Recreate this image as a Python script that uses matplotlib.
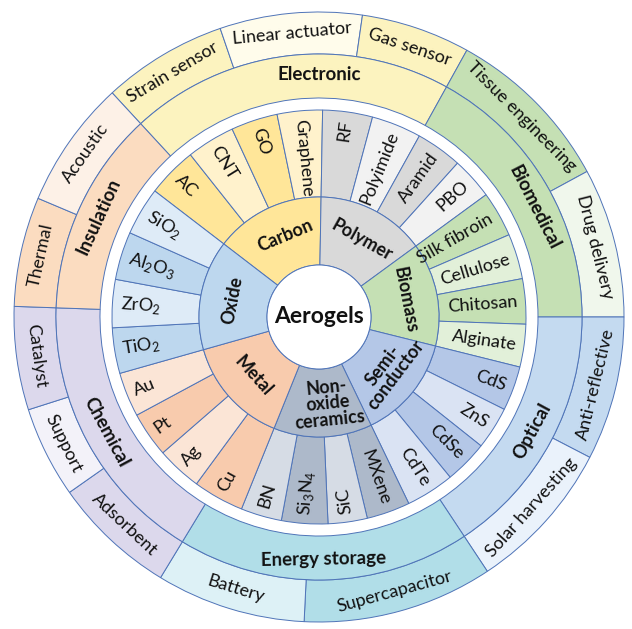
import numpy as np
import matplotlib
matplotlib.use('Agg')
import matplotlib.pyplot as plt

plt.rcParams['font.family'] = ['Lato', 'DejaVu Sans']
plt.rcParams['mathtext.fontset'] = 'custom'
plt.rcParams['mathtext.rm'] = 'Lato'

# ---------------- data ----------------
classes = ['Carbon', 'Polymer', 'Biomass', 'Semi-\nconductor',
           'Non-\noxide\nceramics', 'Metal', 'Oxide']
class_dark = ['#FFE699', '#D9D9D9', '#C5E0B4', '#B4C7E7', '#ADB9CA', '#F8CBAD', '#BDD7EE']
class_light = ['#FFF2CC', '#F2F2F2', '#E2F0D9', '#DAE3F3', '#D6DCE5', '#FBE5D6', '#DEEBF7']
materials_per_class = [4, 4, 4, 4, 4, 4, 4]

materials = ['AC', 'CNT', 'GO', 'Graphene',
             'RF', 'Polyimide', 'Aramid', 'PBO',
             'Silk fibroin', 'Cellulose', 'Chitosan', 'Alginate',
             'CdS', 'ZnS', 'CdSe', 'CdTe',
             'MXene', 'SiC', r'Si$_\mathregular{3}$N$_\mathregular{4}$', 'BN',
             'Cu', 'Ag', 'Pt', 'Au',
             r'TiO$_\mathregular{2}$', r'ZrO$_\mathregular{2}$',
             r'Al$_\mathregular{2}$O$_\mathregular{3}$', r'SiO$_\mathregular{2}$']
material_share = [14.1, 13.6, 13.1, 12.7,
                  14.0, 14.0, 13.0, 11.8,
                  12.8, 12.7, 12.7, 12.0,
                  12.5, 12.0, 12.2, 13.6,
                  12.2, 11.0, 13.0, 11.5,
                  14.3, 12.7, 12.7, 12.5,
                  12.8, 13.5, 13.5, 13.5]

app_groups = ['Electronic', 'Biomedical', 'Optical', 'Energy storage', 'Chemical', 'Insulation']
app_dark = ['#FCF3BF', '#C5E0B4', '#C4DAF0', '#B1DEE8', '#DCD8EC', '#FBDCC0']
app_light = ['#FFFCEB', '#F0F7EC', '#EAF2FB', '#DDF1F6', '#F3F2F9', '#FDF1E7']
apps_per_group = [3, 2, 2, 2, 3, 2]
applications = ['Strain sensor', 'Linear actuator', 'Gas sensor',
                'Tissue engineering', 'Drug delivery',
                'Anti-reflective', 'Solar harvesting',
                'Supercapacitor', 'Battery',
                'Adsorbent', 'Support', 'Catalyst',
                'Thermal', 'Acoustic']
application_share = [23.8, 27.1, 20.8,
                     32.5, 28.5,
                     27.4, 29.1,
                     36.3, 28.5,
                     23.6, 17.4, 19.7,
                     20.9, 24.4]

center_label = 'Aerogels'

# ---------------- layout ----------------
W, H = 632, 629
CX, CY = 319, 317
R_HOLE, R_CLASS, R_MAT = 52, 120, 207
R_APPIN, R_APPMID, R_APPOUT = 219, 263, 305
MAT_START = 307.5      # compass angle (deg, clockwise from north)
APP_START = 317.3
EDGE = '#4F74B8'
LW = 0.7
label_shift = {'Electronic': 7.0, 'Biomedical': 3.5, 'Carbon': 3.0, 'Polymer': 2.0,
               'Semi-\nconductor': -2.0, 'Non-\noxide\nceramics': -4.0}

fig = plt.figure(figsize=(W / 100, H / 100), dpi=100)
ax = fig.add_axes([0, 0, 1, 1])


def group_sums(vals, counts):
    out, i = [], 0
    for c in counts:
        out.append(sum(vals[i:i + c]))
        i += c
    return out


def expand_colors(counts, dark, light):
    cols = []
    for c, d, l in zip(counts, dark, light):
        cols += [d if k % 2 == 0 else l for k in range(c)]
    return cols


def centers(vals, start):
    cum = np.concatenate([[0], np.cumsum(vals)])
    return [(start + (cum[i] + cum[i + 1]) / 2) % 360 for i in range(len(vals))]


def pos(c, r):
    phi = np.deg2rad(90 - c)
    return r * np.cos(phi), r * np.sin(phi)


def tangential_rot(c):
    rot = (-c) % 360
    if rot > 180:
        rot -= 360
    if rot > 90:
        rot -= 180
    if rot <= -90:
        rot += 180
    return rot


class_share = group_sums(material_share, materials_per_class)
group_share = group_sums(application_share, apps_per_group)
wp = dict(edgecolor=EDGE, linewidth=LW)

# rings
ax.pie(application_share, radius=R_APPOUT, startangle=90 - APP_START, counterclock=False,
       colors=expand_colors(apps_per_group, app_dark, app_light),
       wedgeprops=dict(width=R_APPOUT - R_APPMID, **wp))
ax.pie(group_share, radius=R_APPMID, startangle=90 - APP_START, counterclock=False,
       colors=app_dark, wedgeprops=dict(width=R_APPMID - R_APPIN, **wp))
ax.pie(material_share, radius=R_MAT, startangle=90 - MAT_START, counterclock=False,
       colors=expand_colors(materials_per_class, class_dark, class_light),
       wedgeprops=dict(width=R_MAT - R_CLASS, **wp))
ax.pie(class_share, radius=R_CLASS, startangle=90 - MAT_START, counterclock=False,
       colors=class_dark, wedgeprops=dict(width=R_CLASS - R_HOLE, **wp))
ax.add_patch(plt.Circle((0, 0), R_HOLE, facecolor='white', edgecolor=EDGE, linewidth=LW))

# application labels
for name, c in zip(applications, centers(application_share, APP_START)):
    x, y = pos(c, (R_APPMID + R_APPOUT) / 2 + 1)
    ax.text(x, y, name, rotation=tangential_rot(c), rotation_mode='anchor',
            ha='center', va='center', fontsize=13, color='#111111')

for name, c in zip(app_groups, centers(group_share, APP_START)):
    c = c + label_shift.get(name, 0)
    x, y = pos(c, (R_APPIN + R_APPMID) / 2 + 1)
    ax.text(x, y, name, rotation=tangential_rot(c), rotation_mode='anchor',
            ha='center', va='center', fontsize=13.5, fontweight='bold', color='#111111')

# material labels (radial, anchored near the outer edge)
for name, c in zip(materials, centers(material_share, MAT_START)):
    phi = 90 - c
    flip = 170 < c < 360
    rot = phi + 180 if flip else phi
    rot = (rot + 180) % 360 - 180
    x, y = pos(c, R_MAT - 8)
    ax.text(x, y, name, rotation=rot, rotation_mode='anchor',
            ha='left' if flip else 'right', va='center', fontsize=13, color='#111111')

# class labels
for name, c in zip(classes, centers(class_share, MAT_START)):
    c = c + label_shift.get(name, 0)
    r = 87 if name.count('\n') == 2 else (R_HOLE + R_CLASS) / 2 + 2
    x, y = pos(c, r)
    ax.text(x, y, name, rotation=tangential_rot(c), rotation_mode='anchor',
            ha='center', va='center', fontsize=13, fontweight='bold',
            linespacing=0.95, multialignment='center', color='#111111')

ax.text(0, 0, center_label, ha='center', va='center', fontsize=16.5,
        fontweight='bold', color='#111111')

ax.set_xlim(-CX, W - CX)
ax.set_ylim(-(H - CY), CY)
ax.set_aspect('equal', adjustable='box')
ax.axis('off')
fig.savefig('out.png', dpi=100, facecolor='white')
